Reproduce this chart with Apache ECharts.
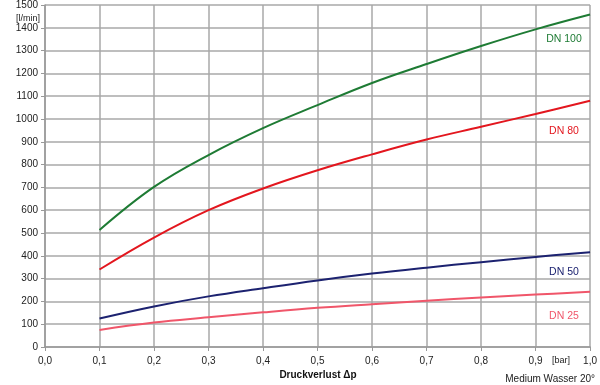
<!DOCTYPE html>
<html><head><meta charset="utf-8">
<script src="https://cdn.jsdelivr.net/npm/echarts@6/dist/echarts.min.js"></script>
<style>html,body{margin:0;padding:0;background:#fff}#c{width:600px;height:385px}</style>
</head><body><div id="c"></div>
<script>
const xValues = [0.1, 0.2, 0.3, 0.4, 0.5, 0.6, 0.7, 0.8, 0.9, 1.0];
const dn100 = [513, 702, 842, 960, 1061, 1158, 1241, 1320, 1393, 1458];
const dn80  = [340, 480, 600, 695, 775, 845, 910, 966, 1022, 1080];
const dn50  = [125, 178, 222, 258, 292, 322, 348, 372, 395, 416];
const dn25  = [75, 107, 130, 152, 172, 188, 203, 217, 230, 242];
const seriesNames = ['DN 100', 'DN 80', 'DN 50', 'DN 25'];
const seriesColors = ['#1e7b34', '#e3161e', '#1c2270', '#f0566a'];
const seriesData = [dn100, dn80, dn50, dn25];
const labelPos = [[564, 39], [564, 131], [564, 272], [564, 316]];

const chart = echarts.init(document.getElementById('c'));
const font = '"Liberation Sans", Arial, sans-serif';
chart.setOption({
  animation: false,
  grid: {left: 45, right: 8, top: 5, bottom: 38, containLabel: false},
  xAxis: {
    type: 'value', min: 0, max: 1, interval: 0.1,
    axisLine: {show: true, lineStyle: {color: '#999', width: 1.5}},
    axisTick: {show: true, length: 4, lineStyle: {color: '#999'}},
    splitLine: {show: true, lineStyle: {color: '#a8a8a8', width: 1.5}},
    axisLabel: {color: '#222', fontFamily: font, fontSize: 10, margin: 9,
      formatter: v => v.toFixed(1).replace('.', ',')}
  },
  yAxis: {
    type: 'value', min: 0, max: 1500, interval: 100,
    axisLine: {show: true, lineStyle: {color: '#999', width: 1.5}},
    axisTick: {show: true, length: 4, lineStyle: {color: '#999'}},
    splitLine: {show: true, lineStyle: {color: '#a8a8a8', width: 1.5}},
    axisLabel: {color: '#222', fontFamily: font, fontSize: 10, margin: 7,
      formatter: v => String(v)}
  },
  series: seriesData.map((d, i) => ({
    type: 'line', name: seriesNames[i], smooth: 0.4, symbol: 'none',
    data: d.map((v, j) => [xValues[j], v]),
    lineStyle: {color: seriesColors[i], width: 2}
  })),
  graphic: [
    ...seriesNames.map((n, i) => ({type: 'text', x: labelPos[i][0], y: labelPos[i][1],
      style: {text: n, fill: seriesColors[i], font: '10.5px ' + font, textAlign: 'center', textVerticalAlign: 'middle'}})),
    {type: 'text', x: 16, y: 19, style: {text: '[l/min]', fill: '#222', font: '9px ' + font, textVerticalAlign: 'middle'}},
    {type: 'text', x: 561, y: 361, style: {text: '[bar]', fill: '#222', font: '9px ' + font, textAlign: 'center', textVerticalAlign: 'middle'}},
    {type: 'text', x: 318, y: 375, style: {text: 'Druckverlust Δp', fill: '#111', font: 'bold 10px ' + font, textAlign: 'center', textVerticalAlign: 'middle'}},
    {type: 'text', x: 595, y: 379, style: {text: 'Medium Wasser 20°', fill: '#222', font: '10px ' + font, textAlign: 'right', textVerticalAlign: 'middle'}}
  ]
});
</script></body></html>
